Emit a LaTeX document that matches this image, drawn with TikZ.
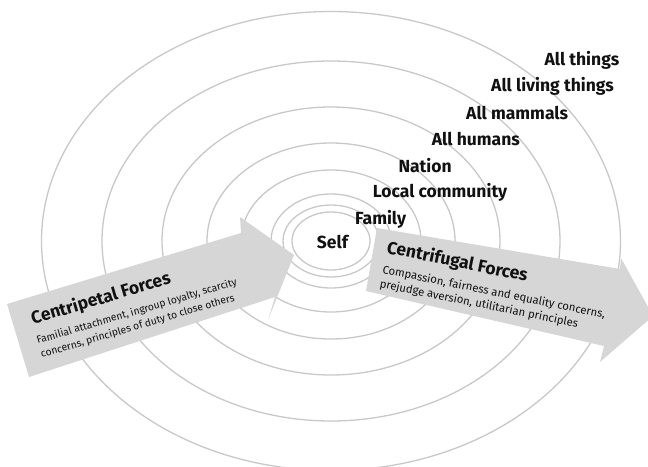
\documentclass[tikz,border=0pt]{standalone}
\usepackage{fontspec}
\setmainfont{Fira Sans}
\definecolor{ringgray}{RGB}{200,200,200}
\definecolor{bandgray}{RGB}{214,214,214}
\definecolor{ink}{RGB}{17,17,17}
\begin{document}
\begin{tikzpicture}[x=1pt,y=-1pt,
  ring/.style={draw=ringgray, line width=1.3pt},
  band/.style={fill=bandgray},
  level/.style={text=ink, font=\bfseries\fontsize{17.5}{20}\selectfont, inner sep=0pt, anchor=base west},
  forcetitle/.style={text=ink, font=\bfseries\fontsize{17.5}{21}\selectfont, inner sep=0pt, anchor=base west},
  forcebody/.style={text=ink, font=\fontsize{11.3}{14.5}\selectfont, inner sep=0pt, anchor=base west, align=left}]
\useasboundingbox (0,0) rectangle (648,466);
\clip (0,0) rectangle (648,466);

% concentric circles of concern
\coordinate (c) at (331,241);
\foreach \rx/\ry in {39/29, 48/36, 60/47, 90/71, 124/98, 169/134, 229/180, 289.5/229.5}
  \draw[ring] (c) ellipse [x radius=\rx pt, y radius=\ry pt];

% inward band
\path[band] (7,304) -- (241,233) -- (240,217) -- (294,255) -- (268,320) -- (275,297) -- (29,377) -- cycle;
% outward band
\path[band] (377,228) -- (620,269) -- (621,258) -- (653,316) -- (600,362) -- (604,346) -- (366,291) -- cycle;

% circle labels
\node[level] (self)   at (316.7,248)   {Self};
\node[level] (family) at (355,224)     {Family};
\node[level] (local)  at (372.7,197.3) {Local community};
\node[level] (nation) at (398.3,172.3) {Nation};
\node[level] (humans) at (431.7,145.6) {All humans};
\node[level] (mammals) at (466,119)    {All mammals};
\node[level] (living) at (491,91.6)    {All living things};
\node[level] (things) at (544.3,65.6)  {All things};

% force descriptions (body nodes are anchored at the baseline of their last line)
\node[forcetitle, rotate=16.5] (cpt) at (33,324.5) {Centripetal Forces};
\node[forcebody, font=\fontsize{10.3}{14.5}\selectfont, rotate=16.5] (cpb) at (41.8,357.9) {Familial attachment, ingroup loyalty, scarcity\\concerns, principles of duty to close others};
\node[forcetitle, rotate=-11.5] (cft) at (386,253) {Centrifugal Forces};
\node[forcebody, rotate=-11.5] (cfb) at (379.1,287.2) {Compassion, fairness and equality concerns,\\prejudge aversion, utilitarian principles};
\end{tikzpicture}
\end{document}
